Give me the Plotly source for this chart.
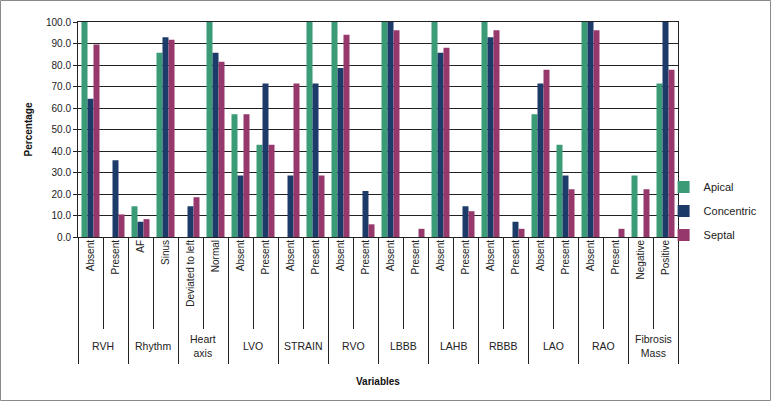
import plotly.graph_objects as go

groups = ["RVH", "RVH", "Rhythm", "Rhythm", "Heart<br>axis", "Heart<br>axis",
          "LVO", "LVO", "STRAIN", "STRAIN", "RVO", "RVO", "LBBB", "LBBB",
          "LAHB", "LAHB", "RBBB", "RBBB", "LAO", "LAO", "RAO", "RAO",
          "Fibrosis<br>Mass", "Fibrosis<br>Mass"]
levels = ["Absent", "Present", "AF", "Sinus", "Deviated to left", "Normal",
          "Absent", "Present", "Absent", "Present", "Absent", "Present",
          "Absent", "Present", "Absent", "Present", "Absent", "Present",
          "Absent", "Present", "Absent", "Present", "Negative", "Positive"]

apical = [100, 0, 14.3, 85.7, 0, 100, 57.1, 42.9, 0, 100, 100, 0,
          100, 0, 100, 0, 100, 0, 57.1, 42.9, 100, 0, 28.6, 71.4]
concentric = [64.3, 35.7, 7.1, 92.9, 14.3, 85.7, 28.6, 71.4, 28.6, 71.4, 78.6, 21.4,
              100, 0, 85.7, 14.3, 92.9, 7.1, 71.4, 28.6, 100, 0, 0, 100]
septal = [89.5, 10.5, 8.3, 91.7, 18.5, 81.5, 57.1, 42.9, 71.4, 28.6, 94.1, 5.9,
          96.2, 3.8, 88.0, 12.0, 96.2, 3.8, 77.8, 22.2, 96.2, 3.8, 22.2, 77.8]

series = [("Apical", apical, "#3a9b76"),
          ("Concentric", concentric, "#1d3b69"),
          ("Septal", septal, "#96386c")]

FONT = "Liberation Sans, Arial, sans-serif"
INK = "#222"

n = len(levels)
positions = list(range(n))
inner_bounds = [i + 0.5 for i in range(0, n, 2)]
group_bounds = [i - 0.5 for i in range(0, n + 1, 2)]
group_names = groups[::2]
group_centers = [i + 0.5 for i in range(0, n, 2)]

fig = go.Figure()
for name, vals, col in series:
    fig.add_trace(go.Bar(x=[groups, levels], y=vals, name=name, legendgroup=name,
                         marker=dict(color=col, line=dict(width=0))))

# invisible helper traces so the overlay axes are drawn
for ax in ["x2", "x3", "x4"]:
    fig.add_trace(go.Scatter(x=[0], y=[0], xaxis=ax, mode="markers",
                             marker=dict(opacity=0), showlegend=False, hoverinfo="skip"))

overlay_common = dict(overlaying="x", anchor="y", side="bottom", range=[-0.5, n - 0.5],
                      tickmode="array", showgrid=False, zeroline=False, showline=False)

fig.update_layout(
    width=771, height=401,
    margin=dict(l=78, r=93, t=22, b=164, autoexpand=False),
    paper_bgcolor="white", plot_bgcolor="white",
    font=dict(family=FONT, size=10, color=INK),
    barmode="group", bargap=0.28, bargroupgap=0,
    showlegend=True,
    legend=dict(x=0.976, y=0.30, xanchor="left", yanchor="top",
                font=dict(size=11, family=FONT), itemwidth=30,
                traceorder="grouped", tracegroupgap=5, bgcolor="rgba(0,0,0,0)"),
    xaxis=dict(type="multicategory", showline=True, linecolor=INK, linewidth=1,
               mirror=True, ticks="", showdividers=False, showticklabels=False),
    # level labels
    xaxis2=dict(**overlay_common, tickvals=positions, ticktext=levels, ticks="",
                tickangle=-90, showticklabels=True,
                tickfont=dict(size=10, family=FONT, color=INK)),
    # separators between levels within a group
    xaxis3=dict(**overlay_common, tickvals=inner_bounds, ticks="outside", ticklen=91,
                tickcolor=INK, tickwidth=1, showticklabels=False),
    # separators between groups
    xaxis4=dict(**overlay_common, tickvals=group_bounds, ticks="outside", ticklen=126,
                tickcolor=INK, tickwidth=1, showticklabels=False),
    yaxis=dict(range=[0, 100], dtick=10, tickformat=".1f", showgrid=True,
               gridcolor=INK, gridwidth=1, showline=True, linecolor=INK,
               mirror=True, ticks="outside", ticklen=4, tickcolor=INK,
               zeroline=False, tickfont=dict(size=10, family=FONT, color=INK),
               title=dict(text="<b>Percentage</b>", font=dict(size=10, family=FONT, color="#111"),
                          standoff=11)),
    shapes=[dict(type="rect", xref="paper", yref="paper",
                 x0=-77.5 / 600, x1=692.5 / 600, y0=(237 - 400.5) / 215, y1=(237 - 0.5) / 215,
                 line=dict(color="#8a8a8a", width=1), fillcolor="rgba(0,0,0,0)")],
)

annotations = []
for name, cx in zip(group_names, group_centers):
    annotations.append(dict(x=cx, xref="x2", y=(237 - 346) / 215, yref="paper",
                            text=name, showarrow=False, xanchor="center", yanchor="middle",
                            align="center", font=dict(size=10.5, family=FONT, color=INK)))
annotations.append(dict(x=0.5, xref="paper", y=(237 - 381) / 215, yref="paper",
                        text="<b>Variables</b>", showarrow=False, xanchor="center",
                        yanchor="middle", font=dict(size=10, family=FONT, color="#111")))
fig.update_layout(annotations=annotations)

page_fix = (
    "var h=document.documentElement, b=document.body;"
    "h.style.margin='0'; h.style.padding='0'; h.style.overflow='hidden';"
    "b.style.margin='0'; b.style.padding='0'; b.style.overflow='hidden';"
)

fig.write_html("out.html", config={"displayModeBar": False}, post_script=page_fix)
